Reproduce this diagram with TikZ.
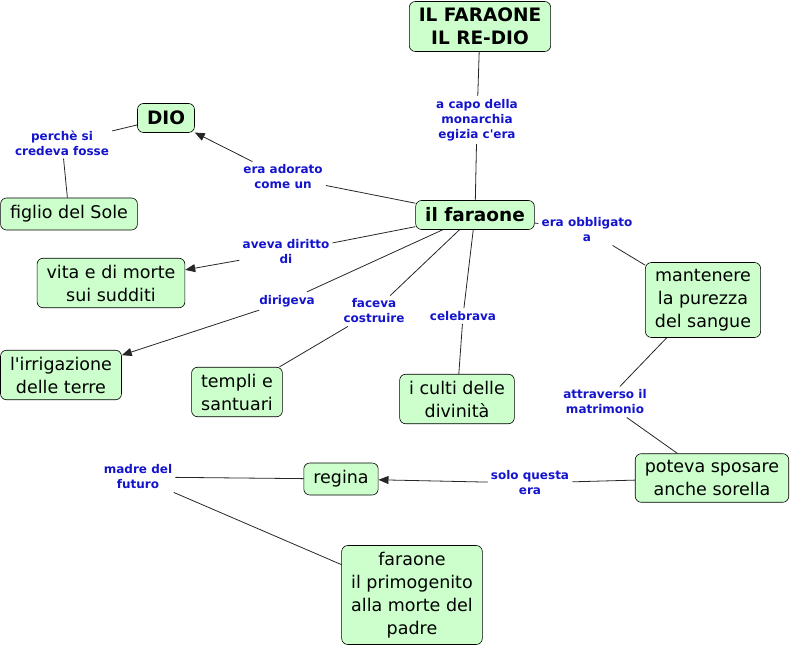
\documentclass[tikz,border=0pt]{standalone}
\usepackage{fontspec}
\setmainfont{DejaVu Sans}
\usetikzlibrary{arrows.meta,positioning}
\definecolor{conceptgreen}{RGB}{204,255,204}
\definecolor{linkblue}{RGB}{20,20,205}

\begin{document}
\begin{tikzpicture}[x=1pt, y=-1pt, semithick, >={Triangle[length=10pt,width=8pt]}]
        \tikzstyle{concept}=[rectangle, rounded corners=6pt, draw, fill=conceptgreen, align=center, inner xsep=9.5pt, inner ysep=6.5pt, minimum height=32pt, font=\fontsize{17.5}{23}\selectfont]
        \tikzstyle{bigconcept}=[concept, minimum height=29pt, font=\fontsize{18.5}{23}\selectfont\bfseries]
        \tikzstyle{link}=[align=center, text=linkblue, inner sep=3pt, font=\fontsize{12}{15}\selectfont\bfseries]
        \tikzstyle{conn}=[draw=black!85, line width=0.8pt]
        \useasboundingbox (0,0) rectangle (793,647);
        % concepts
        \node[bigconcept] (title)    at (480,26.5) {IL FARAONE\\IL RE-DIO};
        \node[bigconcept] (faraone)  at (475,215)  {il faraone};
        \node[bigconcept] (dio)      at (166,118)  {DIO};
        \node[concept]    (figlio)   at (69,214)   {figlio del Sole};
        \node[concept]    (vita)     at (111,283)  {vita e di morte\\sui sudditi};
        \node[concept]    (irrig)    at (61,375)   {l\textquotesingle irrigazione\\delle terre};
        \node[concept]    (templi)   at (237,392)  {templi e\\santuari};
        \node[concept]    (culti)    at (457,399)  {i culti delle\\divinità};
        \node[concept]    (purezza)  at (703,300)  {mantenere\\la purezza\\del sangue};
        \node[concept]    (sposare)  at (712,478)  {poteva sposare\\anche sorella};
        \node[concept]    (regina)   at (341,479)  {regina};
        \node[concept]    (primo)    at (412,595)  {faraone\\il primogenito\\alla morte del\\padre};
        % linking phrases
        \node[link] (capo)     at (477,120) {a capo della\\monarchia\\egizia c\textquotesingle era};
        \node[link] (perche)   at (62,143)  {perchè si\\credeva fosse};
        \node[link] (adorato)  at (283,177) {era adorato\\come un};
        \node[link] (diritto)  at (286,252) {aveva diritto\\di};
        \node[link] (dirigeva) at (287,301) {dirigeva};
        \node[link] (costruire) at (374,311) {faceva\\costruire};
        \node[link] (celebrava) at (463,316) {celebrava};
        \node[link] (obbligato) at (587,230) {era obbligato\\a};
        \node[link] (attraverso) at (605,402) {attraverso il\\matrimonio};
        \node[link] (solo)     at (530,483) {solo questa\\era};
        \node[link] (madre)    at (138,477) {madre del\\futuro};
        % connections
        \path[conn] (title) -- (capo);
        \path[conn] (capo) -- (faraone);
        \path[conn] (dio) -- (perche);
        \path[conn] (perche) -- (figlio);
        \path[conn] (faraone) -- (adorato);
        \path[conn, ->] (adorato) -- (dio);
        \path[conn] (faraone) -- (diritto);
        \path[conn, ->] (diritto) -- (vita);
        \path[conn] (faraone) -- (dirigeva);
        \path[conn, ->] (dirigeva) -- (irrig);
        \path[conn] (faraone) -- (costruire);
        \path[conn] (costruire) -- (templi);
        \path[conn] (faraone) -- (celebrava);
        \path[conn] (celebrava) -- (culti);
        \path[conn] (faraone) -- (obbligato);
        \path[conn] (obbligato) -- (purezza);
        \path[conn] (purezza) -- (attraverso);
        \path[conn] (attraverso) -- (sposare);
        \path[conn] (sposare) -- (solo);
        \path[conn, ->] (solo) -- (regina);
        \path[conn] (regina) -- (madre);
        \path[conn] (madre) -- (primo);
\end{tikzpicture}
\end{document}
